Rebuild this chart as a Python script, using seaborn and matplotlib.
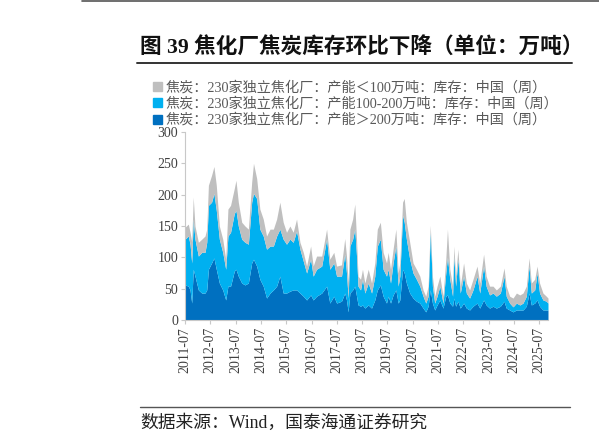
import matplotlib
matplotlib.use('Agg')
import matplotlib.pyplot as plt
import matplotlib.dates as mdates
import seaborn as sns
import pandas as pd
from matplotlib.lines import Line2D
from matplotlib.patches import Patch

# ---------------- data (万吨) ----------------
dates = [
    "2011-07-01", "2011-08-18", "2011-09-12", "2011-10-06", "2011-10-28", "2011-11-22",
    "2012-01-10", "2012-02-28", "2012-04-15", "2012-05-10", "2012-06-03", "2012-07-19",
    "2012-08-22", "2012-09-25", "2012-11-08", "2012-12-27", "2013-02-08", "2013-03-12",
    "2013-04-19", "2013-06-12", "2013-07-06", "2013-08-09", "2013-09-27", "2013-11-13",
    "2014-01-01", "2014-02-18", "2014-03-16", "2014-05-01", "2014-06-16", "2014-08-04",
    "2014-09-21", "2014-11-10", "2014-12-28", "2015-02-13", "2015-04-01", "2015-05-19",
    "2015-07-06", "2015-08-24", "2015-10-10", "2015-11-28", "2016-01-16", "2016-03-04",
    "2016-04-21", "2016-06-18", "2016-07-25", "2016-09-12", "2016-11-25", "2017-02-04",
    "2017-03-22", "2017-05-19", "2017-06-28", "2017-09-07", "2017-10-24", "2017-11-18",
    "2017-12-12", "2018-01-06", "2018-02-15", "2018-03-18", "2018-04-12", "2018-05-04",
    "2018-06-09", "2018-07-07", "2018-08-10", "2018-09-28", "2018-11-15", "2019-01-01",
    "2019-02-06", "2019-03-22", "2019-05-01", "2019-06-19", "2019-07-13", "2019-08-16",
    "2019-09-22", "2019-11-01", "2019-12-04", "2019-12-28", "2020-02-06", "2020-03-01",
    "2020-04-01", "2020-05-19", "2020-07-06", "2020-08-24", "2020-10-12", "2020-11-28",
    "2021-01-06", "2021-02-09", "2021-03-12", "2021-04-12", "2021-05-15", "2021-06-18",
    "2021-07-28", "2021-09-12", "2021-10-22", "2021-11-15", "2021-12-19", "2022-01-28",
    "2022-02-15", "2022-03-13", "2022-04-15", "2022-05-19", "2022-07-06", "2022-08-15",
    "2022-10-01", "2022-11-19", "2023-01-16", "2023-02-24", "2023-04-21", "2023-05-28",
    "2023-07-16", "2023-09-04", "2023-10-22", "2023-12-19", "2024-02-10", "2024-03-13",
    "2024-05-01", "2024-06-19", "2024-08-07", "2024-09-25", "2024-11-10", "2024-12-28",
    "2025-02-06", "2025-03-10", "2025-04-28", "2025-06-01", "2025-07-07", "2025-08-25",
    "2025-10-12", "2025-11-06",
]

# 产能>200万吨 (dark blue, bottom)
cap_large = [
    56, 54, 48, 27, 81, 70,
    48, 43, 43, 48, 81, 91,
    99, 81, 59, 48, 32, 54,
    54, 78, 81, 70, 59, 56,
    59, 91, 97, 86, 65, 54,
    35, 43, 48, 54, 70, 43,
    43, 46, 48, 48, 43, 38,
    32, 40, 32, 38, 43, 54,
    27, 38, 27, 30, 43, 32,
    13, 43, 48, 54, 38, 24,
    22, 24, 19, 24, 19, 32,
    48, 56, 38, 27, 38, 27,
    40, 48, 27, 32, 81, 75,
    59, 43, 35, 30, 27, 19,
    13, 22, 48, 27, 16, 24,
    32, 19, 38, 40, 27, 22,
    35, 22, 30, 19, 27, 19,
    16, 22, 27, 19, 32, 24,
    19, 22, 19, 22, 30, 19,
    16, 13, 16, 16, 16, 22,
    43, 24, 27, 32, 22, 16,
    16, 16,
]

# 产能100-200万吨 (cyan, middle)
cap_mid = [
    73, 80, 73, 64, 80, 59,
    54, 65, 65, 76, 102, 97,
    103, 94, 70, 60, 49, 80,
    86, 92, 94, 80, 70, 68,
    62, 97, 105, 108, 80, 80,
    78, 75, 70, 80, 75, 86,
    78, 83, 76, 94, 70, 56,
    43, 57, 38, 43, 43, 75,
    54, 53, 43, 40, 62, 43,
    22, 75, 81, 91, 64, 30,
    26, 41, 24, 35, 24, 38,
    70, 73, 43, 43, 43, 32,
    51, 70, 27, 38, 86, 81,
    70, 54, 40, 35, 27, 19,
    14, 16, 92, 27, 11, 14,
    22, 8, 37, 60, 38, 16,
    67, 32, 67, 24, 43, 24,
    19, 26, 43, 24, 54, 30,
    21, 21, 19, 21, 40, 19,
    11, 8, 11, 8, 11, 16,
    43, 19, 21, 43, 21, 16,
    14, 11,
]

# 产能<100万吨 (grey, top)
cap_small = [
    19, 19, 19, 34, 35, 21,
    22, 21, 26, 21, 32, 43,
    43, 40, 21, 21, 16, 43,
    43, 40, 48, 38, 27, 26,
    24, 32, 48, 32, 32, 27,
    21, 27, 27, 27, 43, 27,
    19, 21, 16, 19, 11, 14,
    11, 21, 16, 21, 16, 16,
    16, 17, 16, 18, 25, 27,
    25, 27, 32, 40, 27, 16,
    17, 16, 16, 22, 16, 21,
    27, 27, 27, 21, 27, 22,
    22, 27, 21, 21, 21, 38,
    27, 27, 16, 16, 16, 10,
    11, 16, 11, 16, 11, 16,
    16, 11, 22, 45, 16, 16,
    16, 16, 16, 11, 21, 16,
    13, 17, 16, 16, 19, 16,
    14, 11, 10, 11, 13, 16,
    11, 14, 16, 16, 16, 16,
    13, 16, 17, 11, 16, 11,
    8, 8,
]

series_labels = [
    "焦炭：230家独立焦化厂：产能＜100万吨：库存：中国（周）",
    "焦炭：230家独立焦化厂：产能100-200万吨：库存：中国（周）",
    "焦炭：230家独立焦化厂：产能＞200万吨：库存：中国（周）",
]
title_text = "图 39 焦化厂焦炭库存环比下降（单位：万吨）"
source_text = "数据来源：Wind，国泰海通证券研究"

# ---------------- style ----------------
sns.set_theme(style="white")
plt.rcParams['font.family'] = ['Liberation Serif', 'Noto Sans CJK SC', 'DejaVu Sans']
plt.rcParams['axes.unicode_minus'] = False

c_large = "#0070C0"
c_mid = "#00B0F0"
c_small = "#BFBFBF"
txt_col = "#404040"

W, H = 599, 444
fig = plt.figure(figsize=(W / 100, H / 100), dpi=100)
ax = fig.add_axes([185 / W, 1 - 320 / H, (548 - 185) / W, (320 - 132) / H])

x = pd.to_datetime(dates)
ax.stackplot(x, cap_large, cap_mid, cap_small,
             colors=[c_large, c_mid, c_small], linewidth=0)

ax.set_ylim(0, 300)
ax.set_yticks(range(0, 301, 50))
ax.set_xlim(x[0], x[-1])
ticks = pd.date_range("2011-07-01", "2025-07-01", freq="12MS")
ax.set_xticks(ticks)
ax.xaxis.set_major_formatter(mdates.DateFormatter("%Y-%m"))
for lab in ax.get_xticklabels():
    lab.set_rotation(90)

for s in ["top", "right"]:
    ax.spines[s].set_visible(False)
for s in ["left", "bottom"]:
    ax.spines[s].set_color("#C8C8C8")
    ax.spines[s].set_linewidth(0.8)
ax.tick_params(axis="both", which="major", bottom=True, left=True, length=3,
               width=0.8, color="#C8C8C8", labelsize=10, labelcolor=txt_col, pad=2)
ax.grid(False)

# legend
handles = [Patch(color=c_small), Patch(color=c_mid), Patch(color=c_large)]
leg = fig.legend(handles, series_labels, loc="upper left",
                 bbox_to_anchor=(153 / W, 1 - 81 / H), frameon=False,
                 handlelength=0.6, handleheight=0.6, handletextpad=0.3,
                 labelspacing=0.17, fontsize=10.2, borderpad=0, borderaxespad=0)
for t in leg.get_texts():
    t.set_color("#595959")

# title, rules and source
fig.text(140 / W, 1 - 47.5 / H, title_text, fontsize=15.6, fontweight="bold",
         ha="left", va="center", color="#111111")
fig.add_artist(Line2D([137 / W, 572 / W], [1 - 63 / H] * 2, color="#333333",
                      lw=1.4, transform=fig.transFigure))
fig.add_artist(Line2D([82 / W, 1.0], [1 - 0.8 / H] * 2, color="#555555",
                      lw=1.2, transform=fig.transFigure))
fig.add_artist(Line2D([140 / W, 570 / W], [1 - 407 / H] * 2, color="#555555",
                      lw=1.0, transform=fig.transFigure))
fig.text(140 / W, 1 - 423 / H, source_text, fontsize=12.8, ha="left",
         va="center", color="#222222")

fig.savefig("out.png", dpi=100)
